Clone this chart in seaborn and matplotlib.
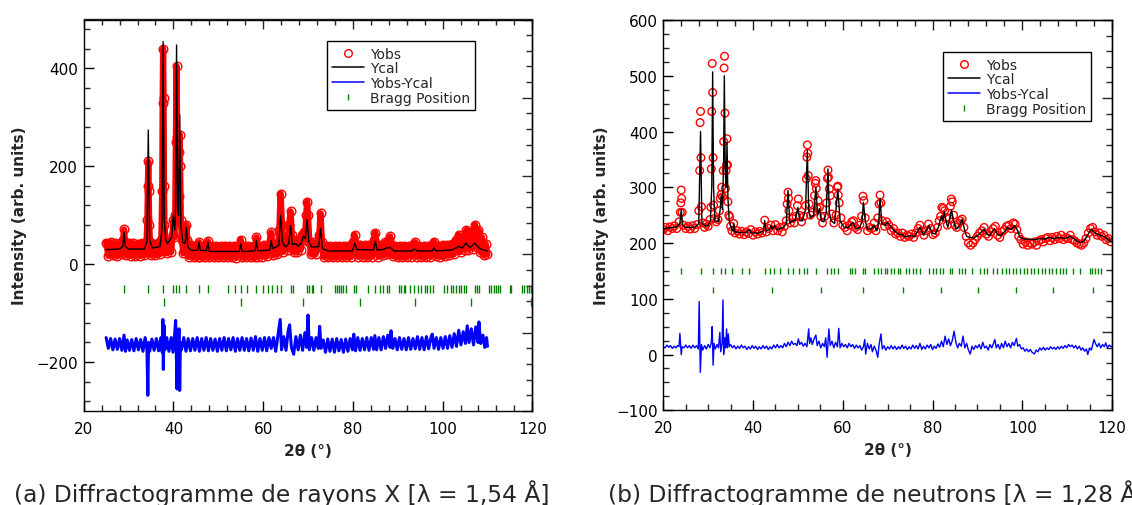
import matplotlib
matplotlib.use("Agg")
import matplotlib.pyplot as plt
from matplotlib.lines import Line2D
from matplotlib.ticker import MultipleLocator, NullFormatter
import seaborn as sns

# ---------------- (a) X-ray pattern ----------------
tt_cal_a = [25.0, 26.0, 28.0, 28.7, 29.0, 29.3, 30.0, 33.5, 34.1, 34.4,
            34.7, 35.3, 37.0, 37.45, 37.7, 37.95, 38.3, 38.7, 39.6, 39.95,
            40.3, 40.5, 40.7, 40.95, 41.15, 41.4, 41.65, 42.1, 42.6, 42.9,
            43.2, 44.0, 45.4, 45.7, 46.0, 47.4, 47.7, 48.0, 54.7, 55.0,
            55.3, 58.2, 58.5, 58.8, 61.5, 61.8, 62.1, 63.5, 63.9, 64.3,
            65.0, 65.7, 66.1, 66.5, 67.3, 67.8, 68.6, 69.0, 69.4, 69.8,
            70.2, 70.8, 72.4, 72.8, 73.2, 74.5, 79.9, 80.4, 80.9, 84.6,
            85.0, 85.4, 86.8, 87.4, 88.3, 89.2, 93.2, 93.7, 94.4, 97.7,
            98.1, 98.6, 102.0, 103.0, 103.6, 104.4, 105.2, 106.1, 107.2, 108.2,
            109.6, 110.0]
ycal_a = [30, 30, 31, 36, 65, 36, 31, 31, 45, 274,
          50, 33, 36, 70, 455, 90, 50, 42, 55, 99,
          70, 120, 448, 110, 100, 305, 80, 45, 42, 75,
          35, 28, 29, 45, 28, 28, 45, 26, 26, 41,
          26, 27, 48, 27, 29, 48, 32, 38, 100, 45,
          35, 42, 79, 40, 42, 36, 45, 58, 52, 91,
          45, 35, 36, 73, 32, 27, 27, 43, 30, 29,
          47, 29, 30, 33, 34, 27, 27, 31, 27, 27,
          33, 27, 29, 33, 37, 33, 43, 34, 43, 32,
          28, 27]

tt_obs_a = [25.0, 25.5, 26.0, 26.5, 27.0, 27.5, 28.0, 28.5, 28.8, 29.0,
            29.2, 29.5, 30.0, 30.5, 31.0, 31.5, 32.0, 32.5, 33.0, 33.5,
            34.0, 34.2, 34.3, 34.4, 34.5, 34.6, 34.8, 35.0, 35.5, 36.0,
            36.5, 37.0, 37.3, 37.5, 37.6, 37.7, 37.8, 37.9, 38.0, 38.3,
            38.5, 39.0, 39.5, 39.8, 40.0, 40.2, 40.4, 40.55, 40.7, 40.85,
            41.0, 41.15, 41.3, 41.4, 41.5, 41.65, 41.9, 42.2, 42.6, 42.9,
            43.1, 43.4, 44.0, 44.5, 45.0, 45.4, 45.7, 46.0, 46.5, 47.0,
            47.5, 47.7, 48.0, 48.5, 49.0, 49.5, 50.0, 50.5, 51.0, 51.5,
            52.0, 52.5, 53.0, 53.5, 54.0, 54.5, 55.0, 55.3, 55.7, 56.2,
            56.7, 57.2, 57.7, 58.1, 58.5, 58.9, 59.3, 59.8, 60.3, 60.8,
            61.3, 61.8, 62.2, 62.7, 63.2, 63.6, 63.9, 64.2, 64.5, 65.0,
            65.5, 65.8, 66.1, 66.4, 66.8, 67.2, 67.6, 68.0, 68.4, 68.7,
            69.0, 69.3, 69.6, 69.8, 70.0, 70.3, 70.7, 71.2, 71.7, 72.2,
            72.5, 72.8, 73.1, 73.5, 74.0, 74.5, 75.0, 75.5, 76.0, 76.5,
            77.0, 77.5, 78.0, 78.5, 79.0, 79.5, 80.0, 80.4, 80.8, 81.2,
            81.7, 82.2, 82.7, 83.2, 83.7, 84.2, 84.7, 85.0, 85.3, 85.7,
            86.2, 86.7, 87.2, 87.7, 88.1, 88.3, 88.6, 89.0, 89.5, 90.0,
            90.5, 91.0, 91.5, 92.0, 92.5, 93.0, 93.5, 93.9, 94.3, 94.8,
            95.3, 95.8, 96.3, 96.8, 97.3, 97.8, 98.1, 98.5, 99.0, 99.5,
            100.0, 100.5, 101.0, 101.5, 102.0, 102.5, 103.0, 103.6, 104.0, 104.5,
            105.0, 105.3, 105.7, 106.2, 106.7, 107.2, 107.6, 108.0, 108.4, 108.8,
            109.2, 109.6, 110.0]
yobs_a = [44, 17, 45, 18, 43, 16, 44, 20, 50, 71,
          45, 18, 44, 17, 43, 16, 42, 17, 43, 18,
          45, 90, 160, 210, 150, 80, 45, 18, 42, 18,
          44, 20, 50, 150, 330, 440, 340, 160, 80, 45,
          22, 48, 25, 60, 90, 55, 100, 250, 405, 260,
          120, 140, 230, 265, 200, 90, 50, 22, 45, 80,
          50, 15, 40, 14, 38, 15, 45, 14, 38, 14,
          38, 47, 14, 38, 14, 38, 14, 37, 14, 38,
          14, 37, 14, 38, 13, 37, 50, 14, 37, 14,
          37, 14, 38, 14, 55, 15, 38, 15, 39, 16,
          40, 65, 18, 42, 20, 70, 144, 80, 25, 48,
          30, 80, 108, 60, 25, 50, 25, 48, 30, 60,
          65, 50, 100, 128, 100, 45, 20, 45, 20, 44,
          60, 104, 45, 15, 38, 14, 38, 14, 38, 14,
          38, 14, 38, 14, 38, 14, 45, 60, 40, 15,
          40, 15, 39, 14, 40, 15, 50, 64, 40, 15,
          40, 18, 45, 20, 50, 57, 40, 16, 38, 14,
          38, 14, 38, 14, 38, 15, 40, 45, 15, 38,
          14, 38, 14, 38, 15, 42, 46, 16, 38, 15,
          40, 16, 40, 18, 42, 20, 50, 60, 25, 55,
          30, 70, 30, 65, 32, 81, 35, 70, 25, 55,
          18, 42, 20]

tt_dif_a = [25.0, 25.5, 26.0, 26.5, 27.0, 27.5, 28.0, 28.5, 29.0, 29.3,
            29.7, 30.2, 30.7, 31.2, 31.7, 32.2, 32.7, 33.2, 33.7, 34.1,
            34.3, 34.45, 34.7, 35.2, 35.7, 36.2, 36.7, 37.2, 37.5, 37.65,
            37.75, 37.9, 38.1, 38.5, 39.0, 39.5, 39.9, 40.3, 40.5, 40.65,
            40.8, 40.95, 41.1, 41.25, 41.4, 41.55, 41.8, 42.3, 42.8, 43.3,
            43.8, 44.3, 44.8, 45.3, 45.8, 46.3, 46.8, 47.3, 47.8, 48.3,
            48.8, 49.3, 49.8, 50.3, 50.8, 51.3, 51.8, 52.3, 52.8, 53.3,
            53.8, 54.3, 54.8, 55.3, 55.8, 56.3, 56.8, 57.3, 57.8, 58.3,
            58.8, 59.3, 59.8, 60.3, 60.8, 61.3, 61.8, 62.3, 62.8, 63.3,
            63.8, 64.1, 64.6, 65.1, 65.6, 65.9, 66.3, 66.8, 67.3, 67.8,
            68.3, 68.8, 69.3, 69.7, 70.0, 70.3, 70.8, 71.3, 71.8, 72.3,
            72.6, 72.9, 73.4, 73.9, 74.4, 74.9, 75.4, 75.9, 76.4, 76.9,
            77.4, 77.9, 78.4, 78.9, 79.4, 79.9, 80.2, 80.6, 81.1, 81.6,
            82.1, 82.6, 83.1, 83.6, 84.1, 84.6, 84.9, 85.3, 85.8, 86.3,
            86.8, 87.3, 87.8, 88.3, 88.5, 88.9, 89.4, 89.9, 90.4, 90.9,
            91.4, 91.9, 92.4, 92.9, 93.4, 93.9, 94.4, 94.9, 95.4, 95.9,
            96.4, 96.9, 97.4, 97.7, 98.1, 98.6, 99.1, 99.6, 100.1, 100.6,
            101.1, 101.6, 102.1, 102.6, 103.1, 103.6, 104.1, 104.6, 105.1, 105.5,
            105.9, 106.4, 106.9, 107.4, 107.9, 108.1, 108.5, 109.0, 109.4, 109.8,
            110.0]
ydif_a = [-150, -172, -152, -175, -153, -174, -152, -176, -145, -178,
          -155, -176, -154, -177, -152, -175, -154, -178, -150, -175,
          -268, -160, -178, -153, -176, -152, -177, -150, -180, -113,
          -215, -125, -175, -150, -178, -150, -180, -140, -115, -180,
          -255, -150, -170, -132, -258, -160, -175, -150, -178, -152,
          -177, -152, -176, -150, -178, -152, -176, -150, -177, -152,
          -176, -153, -178, -152, -176, -150, -177, -152, -175, -150,
          -178, -152, -176, -150, -176, -152, -177, -151, -176, -148,
          -178, -152, -176, -150, -177, -150, -172, -150, -178, -145,
          -113, -175, -148, -176, -135, -124, -170, -184, -148, -175,
          -145, -176, -140, -170, -104, -175, -150, -176, -150, -172,
          -127, -172, -155, -180, -153, -178, -153, -180, -152, -177,
          -154, -180, -153, -178, -152, -175, -143, -177, -150, -176,
          -152, -175, -150, -176, -150, -174, -146, -175, -150, -175,
          -148, -172, -145, -170, -136, -172, -152, -175, -150, -174,
          -152, -175, -150, -174, -152, -173, -148, -174, -150, -175,
          -148, -173, -150, -143, -172, -150, -174, -150, -172, -148,
          -172, -146, -170, -142, -168, -135, -165, -138, -162, -126,
          -160, -132, -165, -128, -160, -118, -162, -145, -170, -150,
          -168]

bragg1_a = [29.0, 34.4, 37.7, 40.0, 40.6, 41.3, 42.9, 45.7, 47.7, 52.1,
            53.7, 55.0, 56.3, 58.5, 60.0, 61.0, 62.0, 63.0, 64.0, 66.1,
            66.6, 69.8, 70.3, 70.8, 71.2, 72.8, 76.0, 76.4, 77.0, 77.4,
            77.9, 78.4, 80.2, 80.6, 83.3, 84.9, 86.0, 86.7, 87.5, 88.1,
            90.3, 90.8, 91.3, 91.7, 92.7, 93.7, 94.5, 95.3, 96.1, 96.6,
            97.3, 97.8, 100.4, 100.9, 101.8, 102.4, 103.1, 103.6, 104.2, 104.7,
            105.2, 107.2, 107.7, 108.2, 110.4, 110.9, 111.4, 112.0, 112.4, 112.8,
            115.0, 115.3, 117.7, 118.2, 118.8, 119.2, 119.6]
bragg2_a = [38.0, 55.0, 68.9, 81.6, 93.9, 106.3, 119.7]

# ---------------- (b) neutron pattern ----------------
tt_cal_b = [20.0, 21.0, 22.0, 23.0, 23.7, 24.0, 24.3, 25.0, 27.0, 27.9,
            28.3, 28.6, 29.5, 30.0, 30.5, 30.8, 31.0, 31.2, 31.5, 32.3,
            32.7, 32.9, 33.2, 33.45, 33.6, 33.8, 34.0, 34.2, 34.4, 34.7,
            35.2, 35.5, 35.7, 35.9, 37.0, 38.5, 39.2, 39.6, 41.4, 42.3,
            42.6, 42.9, 43.6, 44.0, 44.3, 44.8, 45.2, 46.8, 47.4, 47.8,
            48.2, 48.8, 49.4, 50.0, 50.4, 51.0, 51.7, 52.1, 52.4, 52.8,
            53.5, 54.0, 54.4, 54.8, 55.2, 55.8, 56.3, 56.7, 57.0, 57.4,
            58.2, 58.9, 59.4, 60.3, 61.2, 61.7, 62.3, 62.9, 63.8, 64.3,
            64.6, 65.0, 65.5, 66.3, 67.0, 67.6, 68.0, 68.3, 68.7, 69.4,
            70.0, 70.8, 71.5, 72.4, 73.3, 74.0, 75.0, 76.0, 77.2, 78.0,
            79.2, 80.0, 80.6, 81.3, 82.0, 82.3, 82.6, 83.0, 83.4, 83.8,
            84.2, 84.7, 85.2, 85.8, 86.6, 87.1, 87.6, 88.4, 89.2, 90.3,
            91.5, 92.1, 92.7, 93.8, 94.5, 95.1, 96.0, 96.7, 97.5, 98.3,
            99.0, 99.5, 100.5, 101.5, 102.7, 104.0, 105.0, 105.9, 107.0, 108.2,
            109.5, 110.6, 111.5, 112.3, 113.0, 113.8, 114.6, 115.4, 116.2, 117.0,
            117.8, 118.6, 119.4, 120.0]
ycal_b = [225, 227, 228, 229, 235, 260, 232, 228, 228, 235,
          400, 235, 230, 232, 240, 300, 507, 300, 240, 238,
          262, 285, 260, 350, 500, 330, 300, 380, 280, 240,
          225, 222, 236, 220, 219, 219, 224, 218, 218, 222,
          240, 222, 224, 231, 225, 232, 224, 228, 235, 294,
          235, 240, 240, 264, 240, 240, 260, 366, 260, 245,
          250, 300, 250, 262, 240, 238, 255, 333, 255, 240,
          235, 297, 240, 228, 228, 232, 237, 225, 228, 240,
          273, 240, 225, 225, 232, 222, 235, 280, 235, 232,
          237, 228, 222, 216, 215, 211, 213, 212, 228, 214,
          231, 218, 216, 228, 249, 240, 256, 240, 228, 240,
          260, 240, 225, 228, 243, 225, 212, 210, 209, 215,
          225, 216, 213, 226, 215, 213, 220, 228, 224, 231,
          222, 210, 207, 207, 206, 208, 207, 210, 208, 210,
          208, 212, 208, 203, 201, 204, 215, 225, 218, 215,
          213, 210, 204, 202]

tt_obs_b = [20.0, 20.5, 21.0, 21.5, 22.0, 22.5, 23.0, 23.5, 23.8, 23.9,
            24.0, 24.1, 24.2, 24.5, 25.0, 25.5, 26.0, 26.5, 27.0, 27.5,
            27.9, 28.1, 28.2, 28.3, 28.4, 28.5, 28.8, 29.2, 29.6, 30.0,
            30.4, 30.6, 30.7, 30.8, 30.9, 31.0, 31.1, 31.2, 31.4, 31.8,
            32.2, 32.5, 32.7, 32.9, 33.0, 33.2, 33.35, 33.45, 33.55, 33.65,
            33.75, 33.85, 34.0, 34.1, 34.2, 34.3, 34.4, 34.6, 34.8, 35.0,
            35.3, 35.7, 36.0, 36.5, 37.0, 37.5, 38.0, 38.5, 39.0, 39.5,
            40.0, 40.5, 41.0, 41.5, 42.0, 42.6, 43.0, 43.5, 44.0, 44.5,
            45.0, 45.5, 46.0, 46.5, 47.0, 47.4, 47.6, 47.8, 47.9, 48.0,
            48.3, 48.8, 49.2, 49.6, 49.9, 50.1, 50.3, 50.8, 51.3, 51.7,
            51.9, 52.0, 52.1, 52.2, 52.3, 52.5, 52.8, 53.3, 53.7, 53.9,
            54.0, 54.1, 54.3, 54.5, 54.8, 55.1, 55.5, 56.0, 56.4, 56.6,
            56.7, 56.8, 57.0, 57.2, 57.5, 58.0, 58.5, 58.8, 58.9, 59.0,
            59.2, 59.6, 60.0, 60.5, 61.0, 61.5, 62.0, 62.4, 62.8, 63.3,
            63.8, 64.2, 64.5, 64.7, 65.0, 65.5, 66.0, 66.5, 67.0, 67.4,
            67.8, 68.1, 68.3, 68.5, 68.8, 69.3, 69.8, 70.3, 70.8, 71.3,
            71.8, 72.3, 72.8, 73.3, 73.8, 74.3, 74.8, 75.3, 75.8, 76.3,
            76.8, 77.2, 77.6, 78.1, 78.6, 79.1, 79.6, 80.1, 80.6, 81.1,
            81.5, 81.8, 82.1, 82.4, 82.7, 83.0, 83.3, 83.7, 84.0, 84.2,
            84.4, 84.7, 85.0, 85.4, 85.8, 86.2, 86.6, 87.0, 87.5, 88.0,
            88.5, 89.0, 89.5, 90.0, 90.5, 91.0, 91.5, 92.0, 92.5, 93.0,
            93.5, 94.0, 94.5, 95.0, 95.5, 96.0, 96.5, 97.0, 97.5, 98.0,
            98.4, 98.8, 99.2, 99.7, 100.2, 100.7, 101.2, 101.7, 102.2, 102.7,
            103.2, 103.7, 104.2, 104.7, 105.2, 105.7, 106.2, 106.7, 107.2, 107.7,
            108.2, 108.7, 109.2, 109.7, 110.2, 110.7, 111.2, 111.7, 112.2, 112.7,
            113.2, 113.7, 114.2, 114.7, 115.2, 115.7, 116.2, 116.7, 117.2, 117.7,
            118.2, 118.7, 119.2, 119.7]
yobs_b = [224, 228, 222, 229, 226, 231, 226, 238, 255, 272,
          295, 280, 255, 232, 226, 230, 225, 231, 226, 233,
          258, 330, 416, 436, 353, 265, 236, 228, 234, 230,
          242, 264, 333, 436, 522, 470, 353, 268, 244, 238,
          242, 258, 280, 287, 300, 283, 330, 382, 514, 535,
          433, 298, 330, 340, 387, 340, 274, 250, 247, 230,
          222, 235, 218, 222, 216, 221, 215, 220, 217, 224,
          214, 220, 216, 221, 218, 241, 220, 226, 232, 222,
          233, 222, 228, 220, 230, 240, 270, 291, 280, 258,
          236, 244, 236, 248, 267, 279, 250, 238, 248, 267,
          315, 354, 376, 361, 321, 270, 250, 255, 285, 307,
          312, 298, 262, 276, 264, 248, 236, 248, 272, 316,
          331, 318, 297, 285, 252, 236, 250, 300, 302, 286,
          272, 245, 232, 228, 222, 232, 238, 240, 228, 224,
          232, 248, 284, 276, 245, 222, 228, 226, 236, 222,
          245, 270, 286, 272, 240, 230, 238, 232, 222, 226,
          216, 218, 212, 218, 210, 214, 212, 216, 210, 218,
          226, 232, 222, 214, 222, 234, 226, 215, 218, 228,
          240, 248, 264, 262, 258, 246, 232, 244, 266, 279,
          274, 250, 232, 228, 235, 240, 243, 228, 212, 200,
          196, 200, 206, 212, 218, 222, 228, 216, 212, 220,
          226, 230, 214, 210, 220, 224, 230, 232, 226, 236,
          234, 224, 212, 206, 198, 202, 196, 200, 198, 202,
          196, 204, 206, 202, 208, 210, 204, 210, 206, 212,
          208, 214, 206, 210, 208, 214, 206, 204, 200, 198,
          196, 200, 208, 218, 226, 228, 220, 214, 218, 212,
          214, 206, 208, 202]

tt_dif_b = [20.0, 20.4, 20.8, 21.2, 21.6, 22.0, 22.4, 22.8, 23.2, 23.5,
            23.7, 23.9, 24.0, 24.2, 24.6, 25.0, 25.4, 25.8, 26.2, 26.6,
            27.0, 27.4, 27.8, 28.0, 28.25, 28.5, 28.8, 29.2, 29.6, 30.0,
            30.4, 30.7, 30.9, 31.1, 31.3, 31.6, 32.0, 32.3, 32.6, 32.8,
            33.1, 33.3, 33.45, 33.7, 33.9, 34.1, 34.3, 34.5, 34.7, 35.0,
            35.4, 35.8, 36.2, 36.6, 37.0, 37.4, 37.8, 38.2, 38.6, 39.0,
            39.4, 39.8, 40.2, 40.6, 41.0, 41.4, 41.8, 42.2, 42.6, 43.0,
            43.4, 43.8, 44.2, 44.6, 45.0, 45.4, 45.8, 46.2, 46.6, 47.0,
            47.4, 47.8, 48.2, 48.6, 49.0, 49.4, 49.8, 50.1, 50.4, 50.8,
            51.2, 51.6, 52.0, 52.4, 52.6, 52.9, 53.2, 53.6, 54.0, 54.3,
            54.7, 55.1, 55.5, 55.9, 56.2, 56.5, 56.9, 57.2, 57.6, 58.0,
            58.4, 58.8, 59.1, 59.4, 59.8, 60.2, 60.6, 61.0, 61.4, 61.8,
            62.2, 62.6, 63.0, 63.4, 63.8, 64.2, 64.6, 64.9, 65.1, 65.5,
            65.9, 66.3, 66.6, 67.0, 67.4, 67.8, 68.1, 68.5, 68.8, 69.2,
            69.6, 70.0, 70.4, 70.8, 71.2, 71.6, 72.0, 72.4, 72.8, 73.2,
            73.6, 74.0, 74.4, 74.8, 75.2, 75.6, 76.0, 76.4, 76.8, 77.2,
            77.6, 78.0, 78.4, 78.8, 79.2, 79.6, 80.0, 80.4, 80.8, 81.2,
            81.6, 82.0, 82.4, 82.8, 83.2, 83.6, 84.0, 84.4, 84.8, 85.2,
            85.6, 86.0, 86.4, 86.8, 87.2, 87.6, 88.0, 88.4, 88.8, 89.2,
            89.6, 90.0, 90.4, 90.8, 91.2, 91.6, 92.0, 92.4, 92.8, 93.2,
            93.6, 93.9, 94.2, 94.6, 95.0, 95.4, 95.8, 96.2, 96.6, 97.0,
            97.4, 97.8, 98.2, 98.7, 99.0, 99.4, 99.8, 100.2, 100.6, 101.0,
            101.4, 101.8, 102.2, 102.7, 103.1, 103.5, 103.9, 104.3, 104.7, 105.1,
            105.5, 105.9, 106.3, 106.7, 107.1, 107.5, 107.9, 108.3, 108.7, 109.1,
            109.5, 109.9, 110.3, 110.7, 111.1, 111.5, 111.9, 112.3, 112.7, 113.1,
            113.5, 113.9, 114.3, 114.6, 115.0, 115.4, 115.7, 116.0, 116.3, 116.7,
            117.1, 117.5, 117.9, 118.3, 118.6, 119.0, 119.4, 119.8, 120.0]
ydif_b = [14, 12, 17, 13, 16, 11, 15, 12, 16, 14,
          38, 14, 0, 14, 12, 17, 12, 16, 11, 17,
          12, 16, 10, 95, -32, 18, 8, 16, 10, 18,
          12, 22, 50, -19, 20, 10, 18, 12, 40, 5,
          20, 98, 0, 30, 12, 46, 12, 37, 14, 18,
          12, 16, 10, 15, 11, 17, 12, 15, 9, 14,
          10, 16, 11, 15, 9, 14, 10, 16, 11, 15,
          9, 14, 10, 17, 12, 18, 12, 16, 12, 20,
          14, 22, 16, 24, 18, 20, 16, 28, 18, 22,
          15, 20, 14, 46, 20, 30, 18, 28, 35, 16,
          24, 12, 20, 14, 30, -5, 46, 16, 24, 12,
          22, 14, 47, 12, 20, 14, 18, 12, 20, 14,
          18, 11, 17, 12, 16, 8, 14, 27, 1, 20,
          10, 18, 5, 15, 8, -5, 18, 37, 10, 16,
          8, 14, 10, 16, 10, 15, 9, 14, 10, 17,
          11, 15, 9, 14, 10, 17, 11, 16, 10, 20,
          9, 15, 10, 17, 12, 18, 9, 15, 11, 19,
          13, 24, 14, 33, 18, 28, 16, 25, 42, 22,
          12, 20, 15, 33, 12, 20, 8, 1, 15, 9,
          16, 12, 18, 10, 22, 12, 15, 8, 18, 12,
          20, 27, 12, 18, 10, 20, 12, 24, 14, 20,
          12, 22, 16, 29, 15, 18, 10, 12, 6, 10,
          5, 9, 4, 1, 8, 5, 12, 8, 13, 8,
          12, 9, 14, 10, 13, 9, 14, 10, 15, 11,
          16, 12, 18, 14, 17, 12, 16, 10, 15, 8,
          12, 6, 10, 0, 12, 8, 18, 27, 20, 14,
          20, 12, 18, 14, 21, 12, 17, 14, 15]

bragg1_b = [23.9, 28.3, 31.0, 32.9, 33.8, 35.4, 37.6, 39.0, 42.6, 43.8,
            44.7, 46.0, 47.9, 49.0, 50.2, 51.3, 52.1, 54.0, 56.5, 57.3,
            58.0, 58.9, 61.5, 62.1, 62.7, 64.5, 65.0, 66.9, 67.8, 68.6,
            69.3, 69.9, 70.7, 71.5, 72.3, 72.8, 74.0, 74.8, 75.6, 76.4,
            77.2, 79.2, 80.0, 80.8, 81.6, 82.4, 84.0, 84.4, 86.0, 86.6,
            87.2, 88.8, 90.6, 91.4, 92.2, 93.5, 94.3, 95.5, 96.3, 97.1,
            97.9, 98.7, 99.5, 100.3, 101.1, 101.9, 102.7, 103.6, 104.3, 105.1,
            105.9, 106.7, 107.6, 108.3, 109.0, 109.8, 111.3, 112.9, 115.0, 115.6,
            116.2, 116.8, 117.6]
bragg2_b = [31.0, 44.3, 55.2, 64.6, 73.5, 82.0, 90.2, 98.5, 106.9, 115.8]

legend_labels = ["Yobs", "Ycal", "Yobs-Ycal", "Bragg Position"]
captions = ["(a) Diffractogramme de rayons X [λ = 1,54 Å]",
            "(b) Diffractogramme de neutrons [λ = 1,28 Å]"]

sns.set_style("ticks")
plt.rcParams['font.family'] = ['DejaVu Sans']

RED, BLACK, BLUE, GREEN = "#ff0000", "#000000", "#0000ff", "#008000"

fig = plt.figure(figsize=(11.32, 5.06), dpi=100)
W, H = 1132, 506
ax_a = fig.add_axes([83.7 / W, 1 - 412 / H, (532.3 - 83.7) / W, (412 - 20.5) / H])
ax_b = fig.add_axes([663.3 / W, 1 - 411.3 / H, (1112 - 663.3) / W, (411.3 - 21) / H])


def frame(ax, ylim, ymaj, ymin, xmin_bottom, ylabelpad):
    ax.set_xlim(20, 120)
    ax.set_ylim(*ylim)
    ax.xaxis.set_major_locator(MultipleLocator(20))
    ax.xaxis.set_minor_locator(MultipleLocator(xmin_bottom))
    ax.yaxis.set_major_locator(MultipleLocator(ymaj))
    ax.yaxis.set_minor_locator(MultipleLocator(ymin))
    ax.tick_params(which='major', direction='in', length=7, width=1,
                   labelsize=11, colors='black', top=False, right=False)
    ax.tick_params(which='minor', direction='in', length=4.3, width=1,
                   top=False, right=False)
    ax.tick_params(axis='x', pad=7)
    ax.tick_params(axis='y', pad=4)
    for s in ax.spines.values():
        s.set_color('black')
        s.set_linewidth(1.0)
    ax.set_xlabel("2θ (°)", fontsize=11, fontweight='bold', labelpad=5)
    ax.set_ylabel("Intensity (arb. units)", fontsize=11, fontweight='bold',
                  labelpad=ylabelpad)

    # mirrored ticks on top / right (right side uses the instrument's 0-500 scale)
    top = ax.secondary_xaxis('top')
    top.xaxis.set_major_locator(MultipleLocator(20))
    top.xaxis.set_minor_locator(MultipleLocator(4))
    top.xaxis.set_major_formatter(NullFormatter())
    lo, hi = ylim
    right = ax.secondary_yaxis('right', functions=(
        lambda v: (v - lo) * 500.0 / (hi - lo),
        lambda r: r * (hi - lo) / 500.0 + lo))
    right.yaxis.set_major_locator(MultipleLocator(100))
    right.yaxis.set_minor_locator(MultipleLocator(20))
    right.yaxis.set_major_formatter(NullFormatter())
    for sec in (top, right):
        sec.tick_params(which='major', direction='in', length=7, width=1)
        sec.tick_params(which='minor', direction='in', length=4.3, width=1)
        for s in sec.spines.values():
            s.set_linewidth(1.0)


def legend(ax, anchor):
    handles = [
        Line2D([], [], ls='none', marker='o', mfc='none', mec=RED, ms=5.5, mew=1),
        Line2D([], [], color=BLACK, lw=1.1),
        Line2D([], [], color=BLUE, lw=1.1),
        Line2D([], [], ls='none', marker='|', color=GREEN, ms=5, mew=1),
    ]
    leg = ax.legend(handles, legend_labels, loc='upper right', bbox_to_anchor=anchor,
                    fontsize=10, frameon=True, fancybox=False, framealpha=1,
                    edgecolor='black', borderpad=0.4, labelspacing=0.05,
                    handlelength=2.3, handletextpad=0.4, borderaxespad=0)
    leg.get_frame().set_linewidth(1.0)


# ---- panel (a) ----
sns.lineplot(x=tt_obs_a, y=yobs_a, ax=ax_a, sort=False, estimator=None,
             color=RED, lw=4.5, marker='o', markersize=6.2, markerfacecolor='none',
             markeredgecolor=RED, markeredgewidth=1, zorder=1)
sns.lineplot(x=tt_cal_a, y=ycal_a, ax=ax_a, sort=False, estimator=None,
             color=BLACK, lw=1.0, zorder=3)
sns.lineplot(x=tt_dif_a, y=ydif_a, ax=ax_a, sort=False, estimator=None,
             color=BLUE, lw=2.2, zorder=2)
sns.scatterplot(x=bragg1_a, y=[-50] * len(bragg1_a), ax=ax_a, marker='|',
                s=30, color=GREEN, linewidth=1, zorder=2)
sns.scatterplot(x=bragg2_a, y=[-77] * len(bragg2_a), ax=ax_a, marker='|',
                s=30, color=GREEN, linewidth=1, zorder=2)
frame(ax_a, (-300, 500), 200, 40, 4, 7)
legend(ax_a, (0.873, 0.945))

# ---- panel (b) ----
sns.scatterplot(x=tt_obs_b, y=yobs_b, ax=ax_b, marker='o', s=30,
                facecolors='none', edgecolor=RED, linewidth=1, zorder=1)
sns.lineplot(x=tt_cal_b, y=ycal_b, ax=ax_b, sort=False, estimator=None,
             color=BLACK, lw=1.0, zorder=3)
sns.lineplot(x=tt_dif_b, y=ydif_b, ax=ax_b, sort=False, estimator=None,
             color=BLUE, lw=1.0, zorder=2)
sns.scatterplot(x=bragg1_b, y=[150] * len(bragg1_b), ax=ax_b, marker='|',
                s=25, color=GREEN, linewidth=1, zorder=2)
sns.scatterplot(x=bragg2_b, y=[116] * len(bragg2_b), ax=ax_b, marker='|',
                s=25, color=GREEN, linewidth=1, zorder=2)
frame(ax_b, (-100, 600), 100, 25, 5, 5)
legend(ax_b, (0.954, 0.918))

fig.text(14 / W, 1 - 501.7 / H, captions[0], fontsize=16.8, ha='left', va='baseline')
fig.text(608 / W, 1 - 501.7 / H, captions[1], fontsize=16.8, ha='left', va='baseline')

fig.savefig("out.png", dpi=100)
